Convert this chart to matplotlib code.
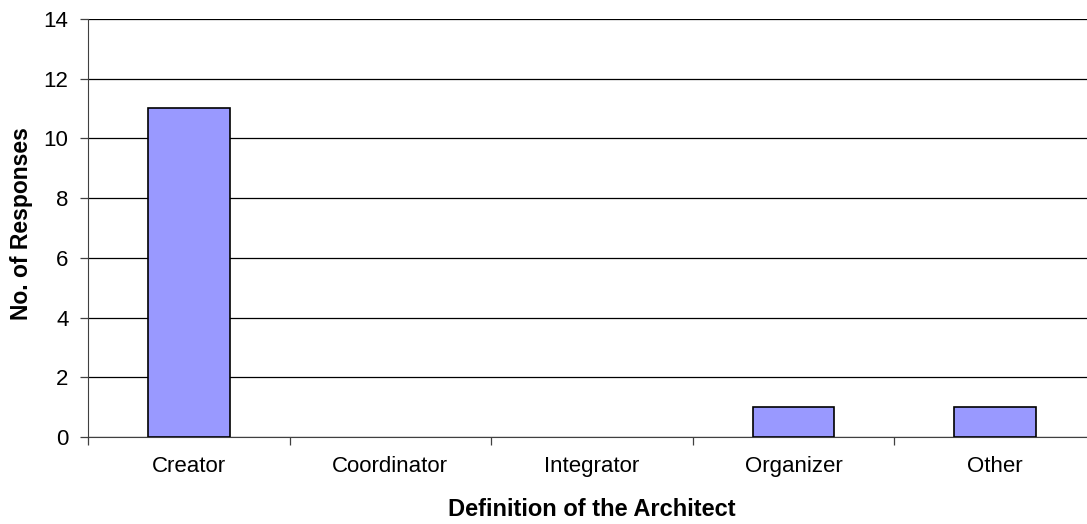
import numpy as np
import matplotlib.pyplot as plt

# Data
categories = ["Creator", "Coordinator", "Integrator", "Organizer", "Other"]
responses = [11, 0, 0, 1, 1]

plt.rcParams["font.family"] = ["Liberation Sans", "DejaVu Sans"]

fig = plt.figure(figsize=(10.87, 5.24), dpi=100)
# plot area runs slightly past the right edge of the image, like the original
ax = fig.add_axes([0.081, 0.166, 0.927, 0.798])

x = np.arange(len(categories))
# no outline for empty categories
edges = ["black" if v > 0 else "none" for v in responses]
ax.bar(x, responses, width=0.405, color="#9999ff", edgecolor=edges, linewidth=1.2, zorder=3)

ax.set_xlim(-0.5, len(categories) - 0.5)
ax.set_ylim(0, 14)
ax.set_yticks(range(0, 15, 2))
ax.yaxis.grid(True, color="black", linewidth=0.9, zorder=0)

# category labels centred, tick marks between categories
ax.set_xticks(x)
ax.set_xticklabels(categories, fontsize=16)
ax.tick_params(axis="x", which="major", length=0, pad=13.5)
ax.set_xticks(np.arange(-0.5, len(categories), 1), minor=True)
ax.tick_params(axis="x", which="minor", length=6, width=0.9, color="#404040")
ax.tick_params(axis="y", length=6, width=0.9, color="#404040", labelsize=16, pad=8)

for side in ["top", "right"]:
    ax.spines[side].set_visible(False)
ax.spines["left"].set_color("#404040")
ax.spines["bottom"].set_color("#404040")

ax.set_xlabel("Definition of the Architect", fontsize=17, fontweight="bold")
ax.set_ylabel("No. of Responses", fontsize=16.5, fontweight="bold")
ax.xaxis.set_label_coords(0.5, -0.147)
ax.yaxis.set_label_coords(-0.0546, 0.511)

fig.savefig("out.png", dpi=100)
